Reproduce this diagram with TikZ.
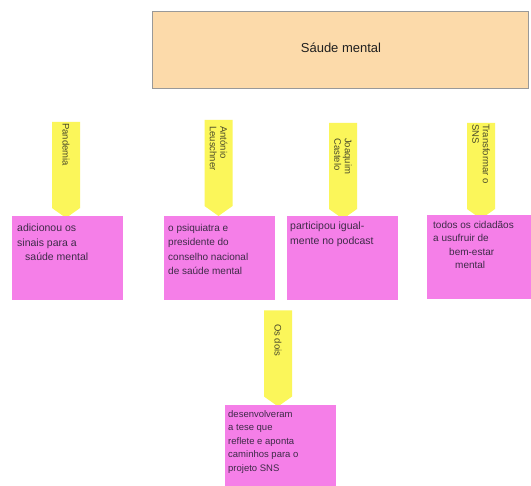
\documentclass[tikz,border=0pt]{standalone}
\usepackage{fontspec}
\setmainfont{Liberation Sans}
\usetikzlibrary{shapes.symbols}
\definecolor{peach}{HTML}{FCDAAA}
\definecolor{postit}{HTML}{F57FE8}
\definecolor{tagyellow}{HTML}{FBF65A}
\definecolor{ink}{HTML}{3E2A48}
\definecolor{tagink}{HTML}{4A4A2A}
\tikzset{
  titlebox/.style={draw=gray!80, line width=0.8pt, fill=peach, minimum width=376pt, minimum height=77pt, inner sep=0pt},
  notebox/.style={fill=postit, minimum width=111pt, minimum height=84pt, inner sep=0pt},
  tagbox/.style={shape=signal, signal to=east, signal from=nowhere, signal pointer angle=109,
     fill=tagyellow, rotate=-90, minimum width=96pt, minimum height=28pt, inner sep=0pt},
  tagtext/.style={rotate=-90, anchor=west, font=\fontsize{9.5}{10.5}\selectfont, text=tagink, align=left, inner sep=0pt},
  notetext/.style={anchor=north west, font=\fontsize{10.5}{14.5}\selectfont, text=ink, align=left, inner sep=0pt},
}
\begin{document}
\begin{tikzpicture}[x=1pt,y=-1pt]
\useasboundingbox[fill=white] (0,0) rectangle (531,486);
% title
\node[titlebox] (title) at (340,49.5) {};
\node[font=\fontsize{13}{15}\selectfont, text=gray!25!black] (titletext) at (341,48) {Sáude mental};
% tags
\node[tagbox] (t1) at (66,165) {};
\node[tagbox] (t2) at (218.5,163) {};
\node[tagbox] (t3) at (343,166) {};
\node[tagbox] (t4) at (481,166) {};
\node[tagbox] (t5) at (278,353.5) {};
\node[tagtext] (t1x) at (66,123) {Pandemia};
\node[tagtext] (t2x) at (218.5,126) {António\\Leuschner};
\node[tagtext] (t3x) at (343,138) {Joaquim\\Castelo};
\node[tagtext] (t4x) at (481,124) {Transformar o\\SNS};
\node[tagtext] (t5x) at (278,324) {Os dois};
% notes
\node[notebox] (n1) at (67.5,258) {};
\node[notebox] (n2) at (219.5,258) {};
\node[notebox] (n3) at (342,258) {};
\node[notebox] (n4) at (482,257.5) {};
\node[notebox, minimum height=81pt] (n5) at (280,445.5) {};
\node[notetext] (n1x) at (17,224) {adicionou os\\sinais para a\\\hspace*{8pt}saúde mental};
\node[notetext, font=\fontsize{10}{14.5}\selectfont] (n2x) at (168,224) {o psiquiatra e\\presidente do\\conselho nacional\\de saúde mental};
\node[notetext] (n3x) at (290,222) {participou igual-\\mente no podcast};
\node[notetext, font=\fontsize{10}{13.5}\selectfont] (n4x) at (433,221) {todos os cidadãos\\a usufruir de\\\hspace*{16pt}bem-estar\\\hspace*{22pt}mental};
\node[notetext, font=\fontsize{9.5}{13.5}\selectfont] (n5x) at (228,410) {desenvolveram\\a tese que\\reflete e aponta\\caminhos para o\\projeto SNS};
\end{tikzpicture}
\end{document}
